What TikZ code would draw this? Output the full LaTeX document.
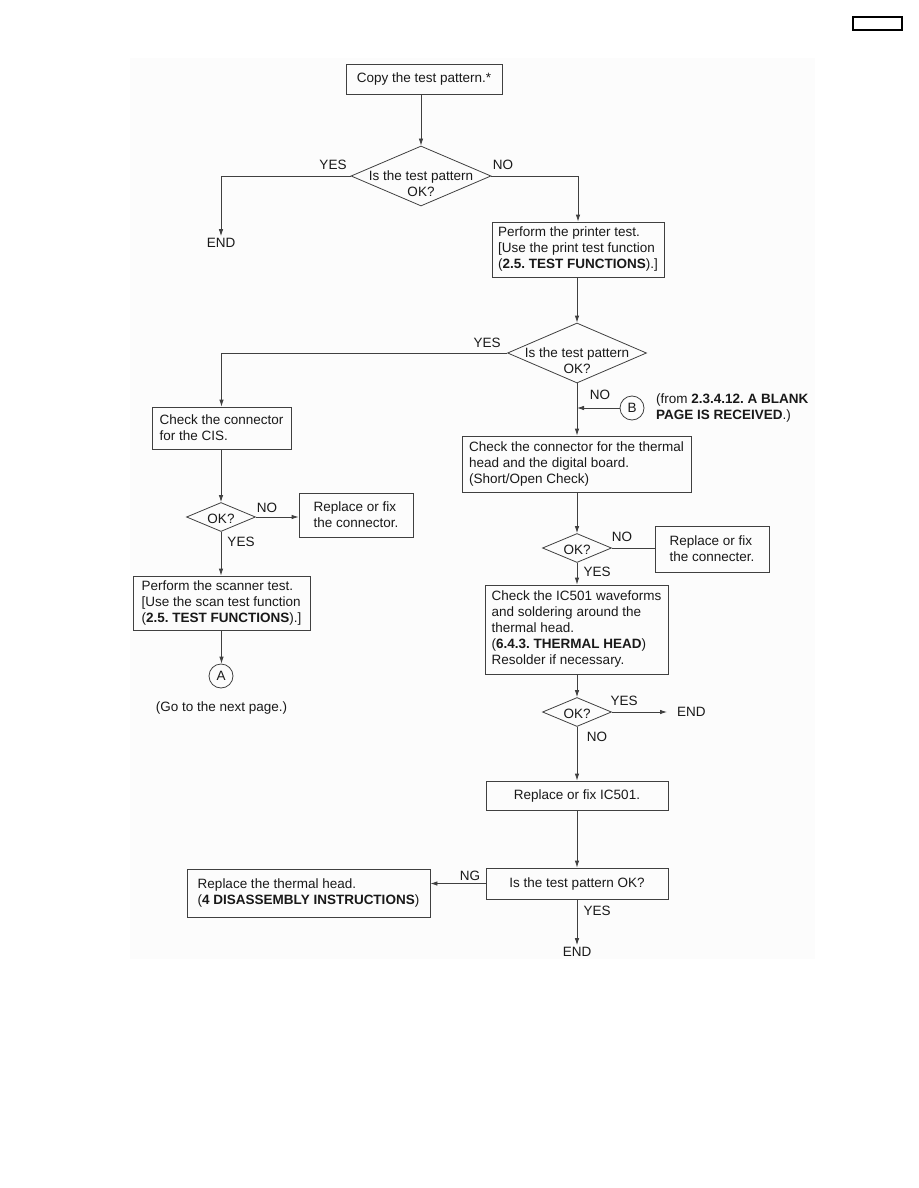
\documentclass[tikz,border=0pt]{standalone}
\usepackage{fontspec}
\setmainfont{Liberation Sans}
\usetikzlibrary{arrows.meta,shapes.geometric}
\begin{document}
\frenchspacing
\begin{tikzpicture}[x=1pt,y=-1pt,
  every node/.style={font=\fontsize{13.5}{16}\selectfont\frenchspacing, text=black!90},
  ln/.style={line width=0.8pt, draw=black!75},
  arr/.style={ln, -{Latex[length=7pt,width=4.5pt]}},
  cbox/.style={draw=black!75, line width=0.8pt, inner sep=0pt, align=left},
  dia/.style={draw=black!75, line width=0.8pt, shape=diamond, inner sep=0pt},
  circ/.style={draw=black!75, line width=0.8pt, circle, minimum size=24pt, inner sep=0pt},
  lab/.style={inner sep=1pt}
]
\useasboundingbox (0,0) rectangle (918,1188);
\fill[black!1] (130,58) rectangle (815,959);
\draw[line width=1.4pt] (853,17) rectangle (902,30);

% boxes
\node[cbox, align=center, minimum width=156pt, minimum height=30pt] (copy) at (424,79) {Copy the test pattern.*};
\node[cbox, minimum width=172pt, minimum height=55pt] (printer) at (578,249.5) {Perform the printer test.\\{[}Use the print test function\\(\textbf{2.5. TEST FUNCTIONS}).]};
\node[cbox, minimum width=139pt, minimum height=42pt] (cis) at (221.5,428) {Check the connector\\for the CIS.};
\node[cbox, minimum width=114pt, minimum height=44pt] (repconn) at (356,515) {Replace or fix\\the connector.};
\node[cbox, minimum width=177pt, minimum height=54pt] (scan) at (221.5,603) {Perform the scanner test.\\{[}Use the scan test function\\(\textbf{2.5. TEST FUNCTIONS}).]};
\node[cbox, minimum width=229pt, minimum height=56pt] (thermal) at (576.5,464) {Check the connector for the thermal\\head and the digital board.\\(Short/Open Check)};
\node[cbox, minimum width=114pt, minimum height=46pt] (repconn2) at (712,549) {Replace or fix\\the connecter.};
\node[cbox, minimum width=183pt, minimum height=89pt] (ic) at (576.5,629.5) {Check the IC501 waveforms\\and soldering around the\\thermal head.\\(\textbf{6.4.3. THERMAL HEAD})\\Resolder if necessary.};
\node[cbox, align=center, minimum width=182pt, minimum height=29pt] (repic) at (577,795.5) {Replace or fix IC501.};
\node[cbox, align=center, minimum width=182pt, minimum height=31pt] (testok) at (577,883.5) {Is the test pattern OK?};
\node[cbox, minimum width=243pt, minimum height=48pt] (head) at (308.5,893) {Replace the thermal head.\\(\textbf{4 DISASSEMBLY INSTRUCTIONS})};

% diamonds
\node[dia, minimum width=140pt, minimum height=60pt] (d1) at (421,176) {};
\node[lab, align=center] (d1t) at (421,184) {Is the test pattern\\OK?};
\node[dia, minimum width=139pt, minimum height=60pt] (d2) at (577,353) {};
\node[lab, align=center] (d2t) at (577,361) {Is the test pattern\\OK?};
\node[dia, minimum width=69pt, minimum height=29pt] (d3) at (221,517) {};
\node[lab] (d3t) at (221,519) {OK?};
\node[dia, minimum width=69pt, minimum height=29pt] (d4) at (577,548) {};
\node[lab] (d4t) at (577,550) {OK?};
\node[dia, minimum width=69pt, minimum height=29pt] (d5) at (577,712) {};
\node[lab] (d5t) at (577,714) {OK?};

% connector circles
\node[circ] (A) at (221,676) {A};
\node[circ] (B) at (632,408) {B};
\node[lab, anchor=west, align=left] (Bt) at (655,408) {(from \textbf{2.3.4.12. A BLANK}\\\textbf{PAGE IS RECEIVED}.)};
\node[lab] (next) at (221.5,708) {(Go to the next page.)};

% END nodes
\node[lab, inner sep=2pt] (end1) at (221,243) {END};
\node[lab, anchor=west, inner sep=0pt] (end2) at (677,712) {END};
\node[lab, inner sep=2pt] (end3) at (577,952) {END};

% labels
\node[lab] (l1) at (333,165) {YES};
\node[lab] (l2) at (503,165) {NO};
\node[lab] (l3) at (487,343) {YES};
\node[lab] (l4) at (600,395) {NO};
\node[lab] (l5) at (267,508) {NO};
\node[lab] (l6) at (241,542) {YES};
\node[lab] (l7) at (622,537) {NO};
\node[lab] (l8) at (597,572) {YES};
\node[lab] (l9) at (624,701) {YES};
\node[lab] (l10) at (597,737) {NO};
\node[lab] (l11) at (470,876) {NG};
\node[lab] (l12) at (597,911) {YES};

% edges
\draw[arr] (d1.north |- copy.south) -- (d1.north);
\draw[arr] (d1.west) -| (end1.north);
\draw[arr] (d1.east) -| (printer.north);
\draw[arr] (d2.north |- printer.south) -- (d2.north);
\draw[arr] (d2.west) -| (cis.north);
\draw[arr] (d2.south) -- (d2.south |- thermal.north);
\draw[arr] (B.west) -- (B.west -| d2.south);
\draw[arr] (d3.north |- cis.south) -- (d3.north);
\draw[arr] (d3.east) -- (d3.east -| repconn.west);
\draw[arr] (d3.south) -- (d3.south |- scan.north);
\draw[arr] (scan.south) -- (scan.south |- A.north);
\draw[arr] (d4.north |- thermal.south) -- (d4.north);
\draw[ln] (d4.east) -- (d4.east -| repconn2.west);
\draw[arr] (d4.south) -- (d4.south |- ic.north);
\draw[arr] (d5.north |- ic.south) -- (d5.north);
\draw[arr] (d5.east) -- ([xshift=-10pt]end2.west);
\draw[arr] (d5.south) -- (d5.south |- repic.north);
\draw[arr] (repic.south) -- (testok.north);
\draw[arr] (testok.west) -- (testok.west -| head.east);
\draw[arr] (testok.south) -- (testok.south |- end3.north);
\end{tikzpicture}
\end{document}
